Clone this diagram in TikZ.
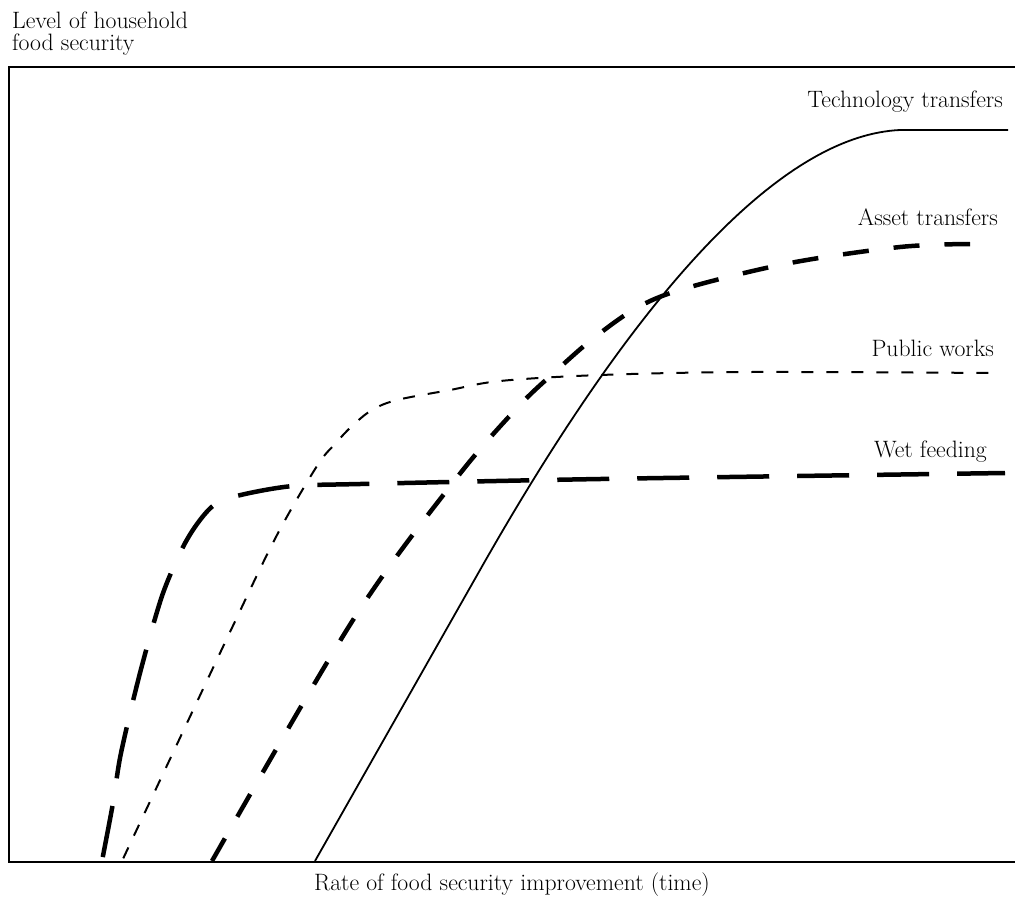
\documentclass[tikz,border=0pt]{standalone}
\begin{document}
\begin{tikzpicture}[x=1pt,y=-1pt,
  lbl/.style={inner sep=0pt,font=\fontsize{23.7}{22}\selectfont},
  frameline/.style={line width=2.6pt},
  tech/.style={line width=1.8pt},
  asset/.style={line width=4.5pt,dash pattern=on 26pt off 25pt},
  public/.style={line width=2pt,dash pattern=on 12pt off 13pt,dash phase=22pt},
  wet/.style={line width=4.5pt,dash pattern=on 52pt off 28pt,dash phase=76pt}]
\useasboundingbox (0,0) rectangle (1015,898);
% frame
\coordinate (tl) at (9,67);
\coordinate (bl) at (9,862);
\coordinate (tr) at (1015,67);
\coordinate (br) at (1015,862);
\draw[frameline] (tr) -- (tl) -- (bl) -- (br);
% axis labels
\node[lbl,anchor=base west,align=left] (ylab) at (12,50) {Level of household\\food security};
\node[lbl,anchor=base] (xlab) at (512,890) {Rate of food security improvement (time)};
% curves
\coordinate (t0) at (315,861);
\coordinate (t1) at (480,570);
\coordinate (t2) at (900,130);
\coordinate (t3) at (1008,130);
\draw[tech] (t0) -- (t1) .. controls (650,270) and (790,135) .. (t2) -- (t3);
\draw[asset] plot[smooth,tension=0.55] coordinates {(212,861) (353,620) (455,480) (517,408) (557,370) (595,337) (640,306) (690,287) (790,263) (900,247) (970,244)};
\draw[public] plot[smooth,tension=0.55] coordinates {(122,861) (230,632) (277,535) (317,466) (335,444) (352,426) (372,410) (397,400) (450,390) (500,381) (600,375) (750,372) (993,373)};
\draw[wet] plot[smooth,tension=0.5] coordinates {(102,861) (113,803) (121,753) (140,673) (162,596) (183,547) (200,520) (217,503) (245,494) (293,486) (360,484) (600,479) (1005,473)};
% curve labels
\node[lbl,anchor=base east] (ltech) at (1003,107) {Technology transfers};
\node[lbl,anchor=base east] (lasset) at (998,225) {Asset transfers};
\node[lbl,anchor=base east] (lpublic) at (994,356) {Public works};
\node[lbl,anchor=base east] (lwet) at (987,457) {Wet feeding};
\end{tikzpicture}
\end{document}
